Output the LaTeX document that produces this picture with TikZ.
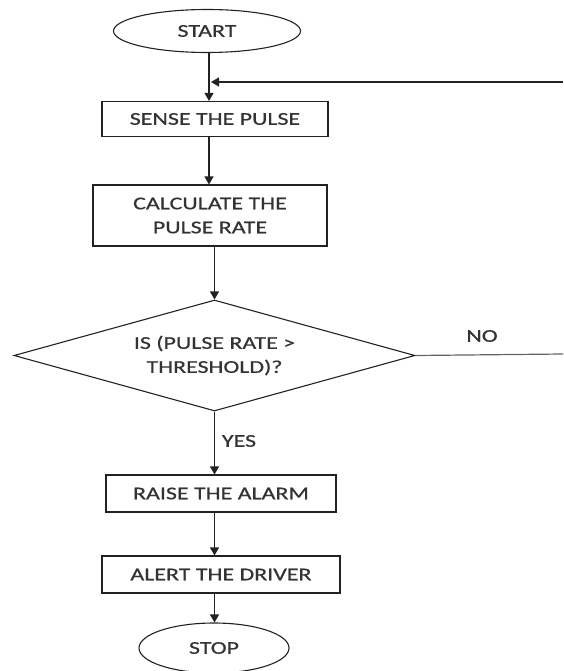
\documentclass[tikz,border=0pt]{standalone}
\usepackage{fontspec}
\setmainfont{Carlito}[FakeStretch=1.33,FakeBold=0.6]
\usetikzlibrary{shapes.geometric,arrows.meta}
\definecolor{ink}{HTML}{222222}
\definecolor{txt}{HTML}{333333}
\begin{document}
\begin{tikzpicture}[x=1pt,y=-1pt,
  every node/.style={font=\fontsize{18}{24}\selectfont,text=txt,inner sep=0pt},
  term/.style={draw=ink,line width=1.1pt,ellipse},
  proc/.style={draw=ink,line width=1.1pt,rectangle,align=center},
  dec/.style={draw=ink,line width=1.1pt,diamond,aspect=3.6,align=center},
  arr/.style={draw=ink,line width=1.2pt,-{Triangle[width=9pt,length=8pt]}},
  ln/.style={draw=ink!70,line width=1.2pt}]
\useasboundingbox (0,0) rectangle (563,671);
\node[term,minimum width=187,minimum height=43] (start) at (207,31) {START};
\node[proc,minimum width=226,minimum height=35] (sense) at (215,119) {SENSE THE PULSE};
\node[proc,minimum width=234,minimum height=61] (calc) at (210,215.5) {CALCULATE THE\\PULSE RATE};
\node[dec,minimum width=401,minimum height=111] (dec) at (214.5,355.5) {IS (PULSE RATE >\\THRESHOLD)?};
\node[proc,minimum width=230,minimum height=37] (raise) at (221,493.5) {RAISE THE ALARM};
\node[proc,minimum width=238,minimum height=37] (alert) at (221,574.5) {ALERT THE DRIVER};
\node[term,minimum width=150,minimum height=50] (stop) at (214,648) {STOP};
\node (no) at (482,336) {NO};
\node (yes) at (239,441) {YES};
\coordinate (s1) at (209,53);
\coordinate (jn) at (211,82);
\coordinate (ret) at (563,82);
\coordinate (noend) at (563,354);
\draw[arr] (s1) -- (s1 |- sense.north);
\draw[arr] (ret) -- (jn);
\draw[arr] (sense.south -| s1) -- (calc.north -| s1);
\draw[arr] (calc.south -| dec.north) -- (dec.north);
\draw[arr] (dec.south) -- (raise.north -| dec.south);
\draw[arr] (raise.south -| dec.south) -- (alert.north -| dec.south);
\draw[arr] (alert.south -| dec.south) -- (stop.north -| dec.south);
\draw[ln] (dec.east) -- (noend);
\end{tikzpicture}
\end{document}
